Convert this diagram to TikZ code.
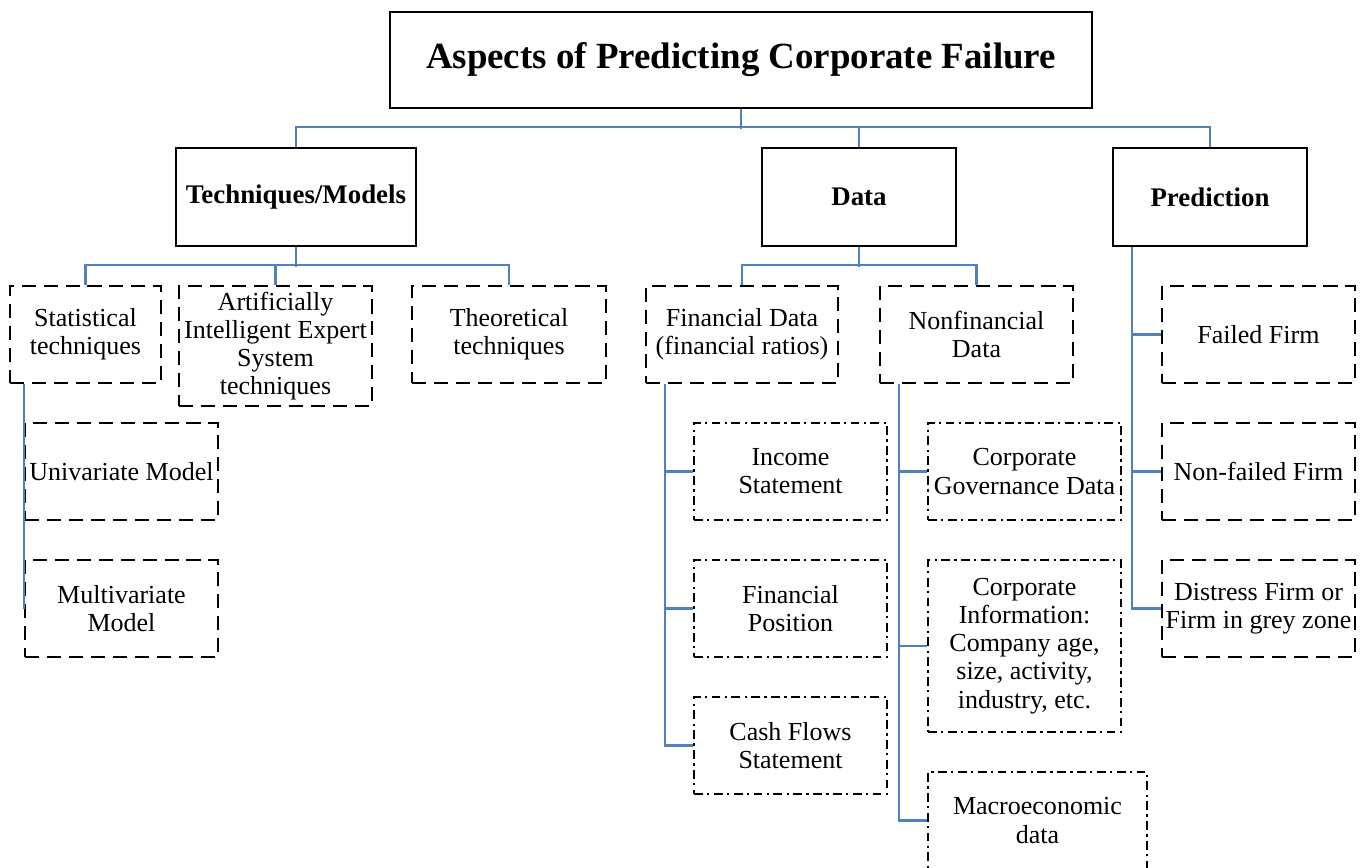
\documentclass[tikz,border=0pt]{standalone}
\usepackage{fontspec}
\setmainfont{Liberation Serif}
\usetikzlibrary{calc}
\definecolor{linkblue}{RGB}{79,129,189}
\begin{document}
\begin{tikzpicture}[x=0.02cm,y=-0.02cm,
  wh/.style 2 args={minimum width=#1*0.02cm, minimum height=#2*0.02cm},
  basebox/.style={draw=black, fill=white, align=center, inner sep=0pt,
    font=\fontsize{14.8}{16}\selectfont},
  solidbox/.style={basebox, line width=1.3pt, font=\fontsize{15.3}{17}\selectfont\bfseries},
  dashbox/.style={basebox, line width=1.3pt, dash pattern=on 8pt off 4.5pt},
  dotbox/.style={basebox, line width=1.2pt, dash pattern=on 5pt off 2.5pt on 1.3pt off 2.5pt},
  conn/.style={draw=linkblue, line width=1.4pt}]
\useasboundingbox (0,0) rectangle (1369,867);

% ---- top level ----
\node[solidbox, wh={702}{96}, font=\fontsize{21}{24}\selectfont\bfseries] (title) at (741,60) {Aspects of Predicting Corporate Failure};

% ---- second level ----
\node[solidbox, wh={240}{98}] (tech) at (296,197) {Techniques/Models};
\node[solidbox, wh={194}{98}] (data) at (859,197) {Data};
\node[solidbox, wh={194}{98}] (pred) at (1210,197) {Prediction};

% ---- techniques ----
\node[dashbox, wh={151}{97}] (stat) at (85.5,334.5) {Statistical\\techniques};
\node[dashbox, wh={193}{120}] (ai) at (275.5,346) {Artificially\\Intelligent Expert\\System\\techniques};
\node[dashbox, wh={194}{97}] (theo) at (509,334.5) {Theoretical\\techniques};
\node[dashbox, wh={193}{97}] (uni) at (121.5,471.5) {Univariate Model};
\node[dashbox, wh={193}{97}] (multi) at (121.5,608.5) {Multivariate\\Model};

% ---- data ----
\node[dashbox, wh={192}{97}] (fin) at (742,334.5) {Financial Data\\(financial ratios)};
\node[dashbox, wh={193}{97}] (nonfin) at (976.5,334.5) {Nonfinancial\\Data};
\node[dotbox, wh={193}{97}] (income) at (790.5,471.5) {Income\\Statement};
\node[dotbox, wh={193}{97}] (finpos) at (790.5,608.5) {Financial\\Position};
\node[dotbox, wh={193}{97}] (cash) at (790.5,745.5) {Cash Flows\\Statement};
\node[dotbox, wh={193}{97}] (gov) at (1024.5,471.5) {Corporate\\Governance Data};
\node[dotbox, wh={193}{172}] (info) at (1024.5,646) {Corporate\\Information:\\Company age,\\size, activity,\\industry, etc.};
\node[dotbox, wh={219}{97}] (macro) at (1037.5,820.5) {Macroeconomic\\data};

% ---- prediction ----
\node[dashbox, wh={193}{97}] (failed) at (1258.5,334.5) {Failed Firm};
\node[dashbox, wh={193}{97}] (nonfailed) at (1258.5,471.5) {Non-failed Firm};
\node[dashbox, wh={193}{97}] (distress) at (1258.5,608.5) {Distress Firm or\\Firm in grey zone};

% ---- connectors: title to the three aspects ----
\coordinate (busTop) at ($(title.south)+(0,20)$);
\draw[conn] (title.south) -- (busTop);
\draw[conn] (tech.north) -- ++(0,-20) -| (pred.north);
\draw[conn] (data.north) -- ++(0,-20);

% ---- techniques branch ----
\coordinate (busTech) at ($(tech.south)+(0,20)$);
\draw[conn] (tech.south) -- (busTech);
\draw[conn] (stat.north) -- ++(0,-20) -| (theo.north);
\draw[conn] (ai.north) -- ++(0,-20);
\draw[conn] (stat.south -| uni.west) -- (multi.west);

% ---- data branch ----
\coordinate (busData) at ($(data.south)+(0,20)$);
\draw[conn] (data.south) -- (busData);
\draw[conn] (fin.north) -- ++(0,-20) -| (nonfin.north);

\coordinate (finDrop) at ($(fin.south west)+(20,0)$);
\draw[conn] (finDrop) |- (income.west);
\draw[conn] (finDrop) |- (finpos.west);
\draw[conn] (finDrop) |- (cash.west);

\coordinate (nonDrop) at ($(nonfin.south west)+(20,0)$);
\draw[conn] (nonDrop) |- (gov.west);
\draw[conn] (nonDrop) |- (info.west);
\draw[conn] (nonDrop) |- (macro.west);

% ---- prediction branch ----
\coordinate (predDrop) at ($(pred.south west)+(20,0)$);
\draw[conn] (predDrop) |- (failed.west);
\draw[conn] (predDrop) |- (nonfailed.west);
\draw[conn] (predDrop) |- (distress.west);
\end{tikzpicture}
\end{document}
